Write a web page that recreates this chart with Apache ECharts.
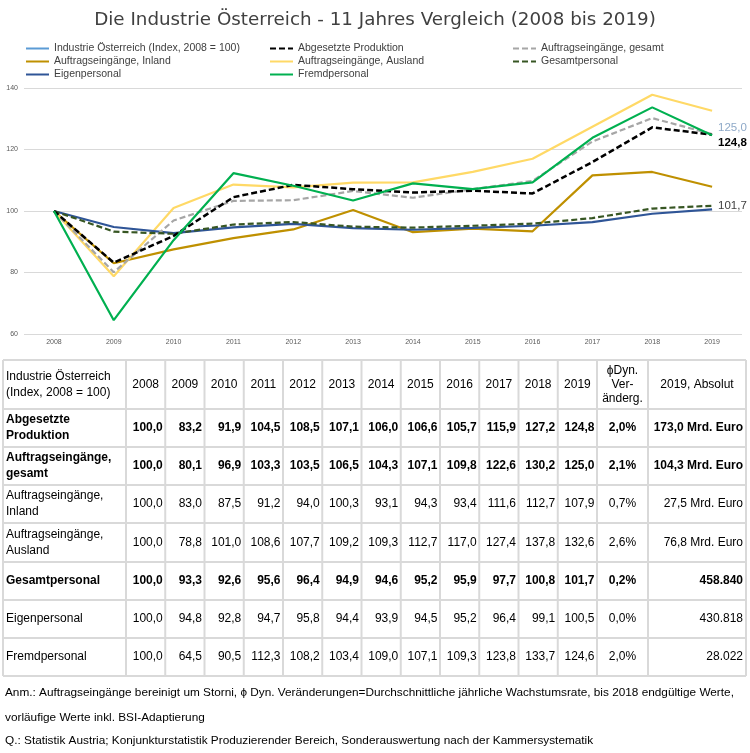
<!DOCTYPE html>
<html><head><meta charset="utf-8">
<script src="https://cdn.jsdelivr.net/npm/echarts@6/dist/echarts.min.js"></script>
<style>html,body{margin:0;padding:0;background:#fff}#c{width:750px;height:753px}</style>
</head><body><div id="c"></div>
<script>
const years = ['2008','2009','2010','2011','2012','2013','2014','2015','2016','2017','2018','2019'];
const yTicks = [60, 80, 100, 120, 140];
const produktion = [100.0,83.2,91.9,104.5,108.5,107.1,106.0,106.6,105.7,115.9,127.2,124.8];
const gesamt = [100.0,80.1,96.9,103.3,103.5,106.5,104.3,107.1,109.8,122.6,130.2,125.0];
const inland = [100.0,83.0,87.5,91.2,94.0,100.3,93.1,94.3,93.4,111.6,112.7,107.9];
const ausland = [100.0,78.8,101.0,108.6,107.7,109.2,109.3,112.7,117.0,127.4,137.8,132.6];
const gesamtpersonal = [100.0,93.3,92.6,95.6,96.4,94.9,94.6,95.2,95.9,97.7,100.8,101.7];
const eigenpersonal = [100.0,94.8,92.8,94.7,95.8,94.4,93.9,94.5,95.2,96.4,99.1,100.5];
const fremdpersonal = [100.0,64.5,90.5,112.3,108.2,103.4,109.0,107.1,109.3,123.8,133.7,124.6];
const dyn = ['2,0%','2,1%','0,7%','2,6%','0,2%','0,0%','2,0%'];
const absolut = ['173,0 Mrd. Euro','104,3 Mrd. Euro','27,5 Mrd. Euro','76,8 Mrd. Euro','458.840','430.818','28.022'];
const rowNames = ['Abgesetzte\nProduktion','Auftragseingänge,\ngesamt','Auftragseingänge,\nInland','Auftragseingänge,\nAusland','Gesamtpersonal','Eigenpersonal','Fremdpersonal'];
const rowBold = [true,true,false,false,true,false,false];
const names = ['Industrie Österreich (Index, 2008 = 100)','Abgesetzte Produktion','Auftragseingänge, gesamt','Auftragseingänge, Inland','Auftragseingänge, Ausland','Gesamtpersonal','Eigenpersonal','Fremdpersonal'];
const notes = [
 'Anm.: Auftragseingänge bereinigt um Storni, ϕ Dyn. Veränderungen=Durchschnittliche jährliche Wachstumsrate, bis 2018 endgültige Werte,',
 'vorläufige Werte inkl. BSI-Adaptierung',
 'Q.: Statistik Austria; Konjunkturstatistik Produzierender Bereich, Sonderauswertung nach der Kammersystematik'
];
const tableSeries = [produktion, gesamt, inland, ausland, gesamtpersonal, eigenpersonal, fremdpersonal];

const fmt = v => v.toFixed(1).replace('.', ',');
const F = '"Liberation Sans", Arial, sans-serif';
const FD = '"DejaVu Sans", sans-serif';

function line(name, data, color, width, dashed, z, endLbl) {
  const s = {name, type: 'line', data, symbol: 'none', z: z || 2, silent: true, animation: false,
    lineStyle: {color, width, type: dashed ? [6, 3] : 'solid'}, itemStyle: {color}};
  if (endLbl) {
    s.endLabel = {show: true, distance: 6, offset: [0, endLbl.dy], color: endLbl.color, fontSize: 11.5,
      fontFamily: F, fontWeight: endLbl.bold ? 'bold' : 'normal', formatter: p => fmt(p.value)};
  }
  return s;
}
const series = [
  line(names[0], [], '#5B9BD5', 2, false),
  line(names[1], produktion, '#000000', 2.5, true, 4, {color: '#000000', bold: true, dy: 8}),
  line(names[2], gesamt, '#A6A6A6', 2.2, true, 3, {color: '#8EA9C8', bold: false, dy: -6}),
  line(names[3], inland, '#BF9000', 2.2, false),
  line(names[4], ausland, '#FFD966', 2.2, false),
  line(names[5], gesamtpersonal, '#375623', 2.2, true, 3, {color: '#404040', bold: false, dy: 0}),
  line(names[6], eigenpersonal, '#2F5597', 2.2, false),
  line(names[7], fremdpersonal, '#00B050', 2.2, false, 5)
];

function legend(left, data) {
  return {left, top: 43, padding: 0, orient: 'vertical', itemGap: 2, itemWidth: 23, itemHeight: 11, selectedMode: false,
    itemStyle: {opacity: 0}, data, textStyle: {fontFamily: F, fontSize: 10.5, color: '#404040'}};
}

const xs = [3, 126];
for (let i = 0; i < 12; i++) xs.push(126 + 39.25 * (i + 1));
xs.push(648, 746);
const ys = [360, 409, 447, 485, 523, 562, 600, 638, 676];
const g = [];
const bc = '#D9D9D9';
xs.forEach(x => g.push({type: 'line', shape: {x1: x, y1: ys[0], x2: x, y2: ys[ys.length - 1]}, style: {stroke: bc, lineWidth: 2}}));
ys.forEach(y => g.push({type: 'line', shape: {x1: xs[0], y1: y, x2: xs[xs.length - 1], y2: y}, style: {stroke: bc, lineWidth: 2}}));
function txt(x, y, text, align, bold, size, lh) {
  g.push({type: 'text', x, y, style: {text, align, verticalAlign: 'middle', fill: '#000', fontFamily: F, fontSize: size || 12, fontWeight: bold ? 'bold' : 'normal', lineHeight: lh || 16}});
}
const hy = (ys[0] + ys[1]) / 2;
txt(xs[0] + 3, hy, 'Industrie Österreich\n(Index, 2008 = 100)', 'left', false, 12, 16);
years.forEach((y, i) => txt((xs[i + 1] + xs[i + 2]) / 2, hy, y, 'center'));
txt((xs[13] + xs[14]) / 2, hy, 'ϕDyn.\nVer-\nänderg.', 'center', false, 12, 14);
txt((xs[14] + xs[15]) / 2, hy, '2019, Absolut', 'center');
rowNames.forEach((n, r) => {
  const cy = (ys[r + 1] + ys[r + 2]) / 2;
  const b = rowBold[r];
  txt(xs[0] + 3, cy, n, 'left', b, 12, 16);
  tableSeries[r].forEach((v, i) => txt(xs[i + 2] - 2.5, cy, fmt(v), 'right', b));
  txt((xs[13] + xs[14]) / 2, cy, dyn[r], 'center', b);
  txt(xs[15] - 3, cy, absolut[r], 'right', b);
});
[693, 718, 741].forEach((y, i) => g.push({type: 'text', x: 5, y, style: {text: notes[i], verticalAlign: 'middle', fill: '#000', fontFamily: F, fontSize: 11.8}}));

const chart = echarts.init(document.getElementById('c'), null, {renderer: 'canvas'});
chart.setOption({
  animation: false,
  title: {text: 'Die Industrie Österreich - 11 Jahres Vergleich (2008 bis 2019)', left: 'center', top: 6,
    textStyle: {fontFamily: FD, fontSize: 18.3, fontWeight: 'normal', color: '#404040'}},
  legend: [
    legend(25, [names[0], names[3], names[6]]),
    legend(269, [names[1], names[4], names[7]]),
    legend(512, [names[2], names[5]])
  ],
  grid: {left: 24, right: 8, top: 88, bottom: 419, containLabel: false},
  xAxis: {type: 'category', data: years, boundaryGap: true,
    axisLine: {show: false}, axisTick: {show: false},
    axisLabel: {fontSize: 7, color: '#595959', fontFamily: F, margin: 5}},
  yAxis: {type: 'value', min: yTicks[0], max: yTicks[yTicks.length - 1], interval: 20,
    axisLine: {show: false}, axisTick: {show: false},
    axisLabel: {fontSize: 7, color: '#595959', fontFamily: F, margin: 6},
    splitLine: {lineStyle: {color: '#D9D9D9', width: 1}}},
  series,
  graphic: g
});
</script></body></html>
